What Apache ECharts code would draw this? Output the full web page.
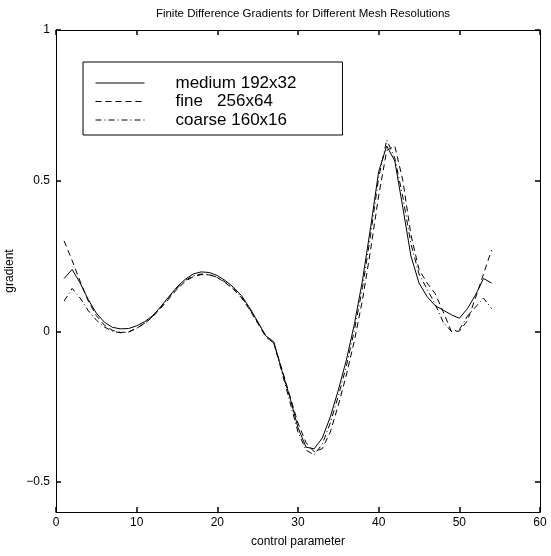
<!DOCTYPE html>
<html>
<head>
<meta charset="utf-8">
<script src="https://cdn.jsdelivr.net/npm/echarts@6/dist/echarts.min.js"></script>
<style>
html,body{margin:0;padding:0;background:#fff;}
#chart{width:551px;height:556px;}
</style>
</head>
<body>
<div id="chart"></div>
<script>
var titleText = 'Finite Difference Gradients for Different Mesh Resolutions';
var xName = 'control parameter';
var yName = 'gradient';
var seriesNames = ['medium 192x32', 'fine   256x64', 'coarse 160x16'];
var params = [1,2,3,4,5,6,7,8,9,10,11,12,13,14,15,16,17,18,19,20,21,22,23,24,25,26,27,28,29,30,31,32,33,34,35,36,37,38,39,40,41,42,43,44,45,46,47,48,49,50,51,52,53,54];
var medium = [0.175,0.205,0.16,0.105,0.06,0.03,0.013,0.008,0.009,0.018,0.032,0.052,0.082,0.115,0.147,0.172,0.19,0.197,0.195,0.185,0.168,0.146,0.118,0.078,0.032,-0.015,-0.035,-0.13,-0.22,-0.32,-0.385,-0.39,-0.355,-0.285,-0.195,-0.095,0.025,0.17,0.345,0.53,0.615,0.565,0.41,0.25,0.16,0.115,0.085,0.07,0.055,0.043,0.075,0.12,0.175,0.16];
var fine = [0.30,0.235,0.165,0.10,0.052,0.02,0.003,-0.004,-0.002,0.01,0.026,0.048,0.077,0.108,0.14,0.165,0.181,0.188,0.187,0.178,0.161,0.139,0.111,0.072,0.027,-0.018,-0.04,-0.125,-0.215,-0.305,-0.37,-0.4,-0.39,-0.335,-0.245,-0.145,-0.03,0.105,0.27,0.45,0.6,0.615,0.5,0.32,0.205,0.16,0.125,0.065,0.0,0.0,0.035,0.11,0.19,0.27];
var coarse = [0.10,0.142,0.11,0.068,0.037,0.014,0.0,-0.005,-0.003,0.01,0.027,0.05,0.08,0.112,0.143,0.168,0.184,0.19,0.188,0.179,0.163,0.141,0.113,0.075,0.03,-0.016,-0.04,-0.135,-0.235,-0.335,-0.395,-0.41,-0.375,-0.305,-0.215,-0.115,0.005,0.145,0.32,0.51,0.635,0.575,0.445,0.29,0.19,0.14,0.09,0.03,0.0,0.005,0.05,0.08,0.11,0.075];
var yTicks = [-0.5, 0, 0.5, 1];

var FONT = 'Liberation Sans, Arial, sans-serif';

function pairs(ys){ return params.map(function(x,i){ return [x, ys[i]]; }); }
function fmtY(v){ return (v < 0 ? '\u2212' + Math.abs(v) : String(v)); }

var chart = echarts.init(document.getElementById('chart'), null, {renderer:'canvas'});

function axisLine(){ return {show:true, onZero:false, lineStyle:{color:'#000', width:1}}; }
function tick(custom){
  var t = {show:true, inside:true, length:5, lineStyle:{color:'#000', width:1.5}};
  if (custom) t.customValues = custom;
  return t;
}

var option = {
  animation:false,
  backgroundColor:'#fff',
  title:{
    text:titleText, left:298, top:3, textAlign:'center',
    textStyle:{fontSize:11.5, fontWeight:'normal', color:'#000', fontFamily:FONT}
  },
  grid:{left:56, right:11, top:30, bottom:44, containLabel:false, outerBoundsMode:'none'},
  legend:{
    orient:'vertical', left:83, top:62,
    padding:[12, 46, 6, 12],
    itemWidth:49, itemHeight:14, itemGap:0.5,
    borderColor:'#000', borderWidth:1, borderRadius:0, backgroundColor:'#fff',
    itemStyle:{color:'rgba(0,0,0,0)', borderWidth:0, opacity:0},
    lineStyle:{width:1, color:'#000'},
    textStyle:{fontSize:17, lineHeight:18, color:'#000', fontFamily:FONT, padding:[0,0,0,26]},
    data:seriesNames
  },
  xAxis:[{
    type:'value', min:0, max:60, interval:10, position:'bottom',
    name:xName, nameLocation:'middle', nameGap:24,
    nameTextStyle:{fontSize:12, color:'#000', fontFamily:FONT},
    axisLine:axisLine(), axisTick:tick(),
    axisLabel:{color:'#000', fontSize:12, fontFamily:FONT, margin:5},
    splitLine:{show:false}
  },{
    type:'value', min:0, max:60, interval:10, position:'top',
    axisLine:axisLine(), axisTick:tick(), axisLabel:{show:false}, splitLine:{show:false}
  }],
  yAxis:[{
    type:'value', min:-0.6, max:1, position:'left',
    name:yName, nameLocation:'middle', nameGap:38,
    nameTextStyle:{fontSize:12, color:'#000', fontFamily:FONT},
    axisLine:axisLine(), axisTick:tick(yTicks),
    axisLabel:{color:'#000', fontSize:12, fontFamily:FONT, margin:6, customValues:yTicks, formatter:fmtY},
    splitLine:{show:false}
  },{
    type:'value', min:-0.6, max:1, position:'right',
    axisLine:axisLine(), axisTick:tick(yTicks),
    axisLabel:{show:false}, splitLine:{show:false}
  }],
  series:[{
    name:seriesNames[0], type:'line', data:pairs(medium), symbol:'none',
    lineStyle:{color:'#000', width:1, type:'solid'}, itemStyle:{color:'#000'}
  },{
    name:seriesNames[1], type:'line', data:pairs(fine), symbol:'none',
    lineStyle:{color:'#000', width:1, type:[6,4]}, itemStyle:{color:'#000'}
  },{
    name:seriesNames[2], type:'line', data:pairs(coarse), symbol:'none',
    lineStyle:{color:'#000', width:1, type:[6,3,1,3]}, itemStyle:{color:'#000'}
  }]
};
chart.setOption(option);
</script>
</body>
</html>
